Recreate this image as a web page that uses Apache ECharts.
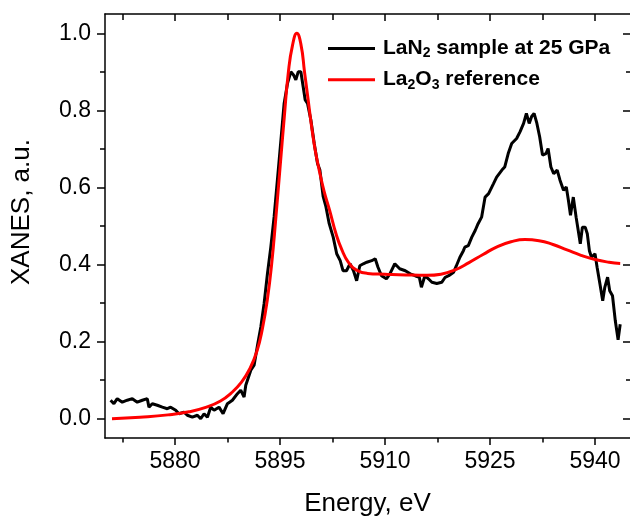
<!DOCTYPE html>
<html>
<head>
<meta charset="utf-8">
<script src="https://cdn.jsdelivr.net/npm/echarts@6/dist/echarts.min.js"></script>
<style>html,body{margin:0;padding:0;background:#fff}#c{width:630px;height:516px}</style>
</head>
<body>
<div id="c"></div>
<script>
// ---- data ----
const seriesNames = ['LaN2 sample at 25 GPa', 'La2O3 reference'];
const blackE = [5870.80,5871.27,5871.75,5872.47,5873.18,5873.90,5874.61,5875.33,5876.04,5876.28,5876.76,5877.47,5878.19,5878.90,5879.38,5880.10,5880.57,5881.29,5881.76,5882.48,5883.20,5883.67,5884.15,5884.63,5885.10,5885.58,5886.29,5886.87,5887.49,5888.20,5888.92,5889.39,5889.87,5890.11,5890.83,5891.30,5891.78,5892.26,5892.73,5893.21,5893.69,5894.16,5894.88,5895.59,5896.07,5896.55,5896.93,5897.26,5897.60,5897.98,5898.31,5898.60,5898.93,5899.41,5899.89,5900.36,5900.70,5901.17,5901.56,5902.03,
 5902.6,5903.1,5903.6,5904.0,5904.5,5905.0,5905.5,5905.95,5906.4,5906.9,5907.4,5908.1,5908.6,5909.0,5909.5,5910.2,5910.7,5911.4,5912.1,5912.9,5913.6,5914.3,5914.9,5915.2,5915.7,5916.2,5916.7,5917.4,5918.1,5918.6,5919.1,5919.8,5920.2,5920.7,5921.2,5921.4,5921.9,5922.4,5922.9,5923.3,5923.8,5924.3,5924.8,5925.5,5925.95,5926.7,5927.1,5927.6,5928.1,5928.8,5929.3,5929.8,5930.2,5930.6,5930.95,5931.3,5931.7,5932.1,5932.5,5933.0,5933.3,5933.7,5934.1,5934.6,5935.0,5935.5,5935.9,5936.2,5936.5,5936.9,5937.3,5937.6,5937.9,5938.2,5938.6,5938.9,5939.2,5939.5,5940.0,5940.3,5940.7,5941.1,5941.4,5941.8,5942.1,5942.5,5942.9,5943.3,5943.6];
const blackV = [0.048,0.039,0.052,0.043,0.048,0.052,0.043,0.048,0.052,0.030,0.039,0.035,0.030,0.026,0.030,0.022,0.013,0.017,0.009,0.004,0.009,0.000,0.013,0.004,0.030,0.022,0.030,0.013,0.039,0.048,0.065,0.074,0.056,0.087,0.126,0.139,0.190,0.238,0.299,0.377,0.446,0.524,0.671,0.818,0.870,0.900,0.892,0.879,0.900,0.900,0.861,0.827,0.818,0.775,0.714,0.662,0.645,0.576,0.550,0.506,
 0.471,0.428,0.410,0.384,0.384,0.402,0.384,0.358,0.397,0.402,0.406,0.410,0.415,0.393,0.371,0.363,0.376,0.402,0.389,0.384,0.376,0.371,0.367,0.341,0.371,0.363,0.354,0.351,0.354,0.367,0.371,0.380,0.397,0.419,0.436,0.445,0.449,0.471,0.489,0.506,0.523,0.575,0.584,0.610,0.627,0.645,0.653,0.688,0.714,0.727,0.745,0.766,0.792,0.766,0.784,0.792,0.766,0.731,0.684,0.688,0.701,0.653,0.636,0.645,0.619,0.593,0.601,0.567,0.528,0.575,0.523,0.489,0.454,0.497,0.497,0.480,0.436,0.419,0.428,0.393,0.350,0.306,0.341,0.367,0.332,0.319,0.254,0.205,0.245];
const redE = [5871.0,5875.0,5879.0,5882.0,5884.5,5886.5,5888.0,5889.5,5890.7,5891.7,5892.5,5893.2,5893.8,5894.4,5895.0,5895.6,5896.2,5896.8,5897.4,5898.0,5898.5,5899.0,5899.5,5900.0,5900.6,5901.3,5902.1,5903.0,5903.8,5904.8,5906.0,5907.5,5910.0,5913.0,5916.0,5918.0,5920.0,5922.0,5924.0,5926.0,5928.0,5930.0,5932.0,5934.0,5936.0,5938.0,5940.0,5942.0,5943.6];
const redV = [0.000,0.004,0.010,0.018,0.030,0.046,0.066,0.095,0.130,0.175,0.235,0.310,0.400,0.520,0.650,0.780,0.900,0.970,1.000,0.970,0.900,0.830,0.760,0.700,0.645,0.590,0.540,0.480,0.440,0.405,0.385,0.377,0.375,0.373,0.372,0.375,0.386,0.405,0.426,0.446,0.459,0.465,0.462,0.452,0.438,0.424,0.413,0.406,0.403];
const xMajor = [5880, 5895, 5910, 5925, 5940];
const xMinor = [5872.5, 5887.5, 5902.5, 5917.5, 5932.5];
const yMajor = [0, 0.2, 0.4, 0.6, 0.8, 1.0];
const yMinor = [0.1, 0.3, 0.5, 0.7, 0.9];

const FONT = '"Liberation Sans", Arial, sans-serif';
const zip = (a, b) => a.map((v, i) => [v, b[i]]);
const lineCol = '#000';

function xAx(pos, ticks, len, inside, withLabel, withLine, extra) {
  return Object.assign({
    type: 'value', position: pos, min: 5870, max: 5945,
    axisLine: { show: withLine, onZero: false, lineStyle: { color: lineCol, width: 1.5 } },
    axisTick: { show: true, inside: inside, length: len, customValues: ticks, lineStyle: { color: lineCol, width: 1.5 } },
    axisLabel: withLabel ? { show: true, customValues: ticks, color: '#000', fontSize: 23, fontFamily: FONT, margin: 12, formatter: v => String(v) } : { show: false },
    splitLine: { show: false }
  }, extra || {});
}
function yAx(pos, ticks, len, inside, withLabel, withLine, extra) {
  return Object.assign({
    type: 'value', position: pos, min: -0.05, max: 1.05,
    axisLine: { show: withLine, onZero: false, lineStyle: { color: lineCol, width: 1.5 } },
    axisTick: { show: true, inside: inside, length: len, customValues: ticks, lineStyle: { color: lineCol, width: 1.5 } },
    axisLabel: withLabel ? { show: true, customValues: ticks, color: '#000', fontSize: 23, fontFamily: FONT, margin: 14, formatter: v => v.toFixed(1) } : { show: false },
    splitLine: { show: false }
  }, extra || {});
}

const chart = echarts.init(document.getElementById('c'), null, { renderer: 'canvas' });
chart.setOption({
  animation: false,
  backgroundColor: '#fff',
  grid: { left: 105, top: 14, right: 0, bottom: 78, containLabel: false, outerBoundsMode: 'none' },
  xAxis: [
    xAx('bottom', xMajor, 7, false, true, true, {
      name: 'Energy, eV', nameLocation: 'middle', nameGap: 53,
      nameTextStyle: { color: '#000', fontSize: 26, fontFamily: FONT }
    }),
    xAx('bottom', xMinor, 4.5, false, false, false),
    xAx('top', xMajor, 7, true, false, true),
    xAx('top', xMinor, 6, true, false, false)
  ],
  yAxis: [
    yAx('left', yMajor, 8, false, true, true, {
      name: 'XANES, a.u.', nameLocation: 'middle', nameGap: 70,
      nameTextStyle: { color: '#000', fontSize: 26, fontFamily: FONT, padding: [0, 0, 0, 28] }
    }),
    yAx('left', yMinor, 5, false, false, false),
    yAx('right', yMajor, 7, true, false, false),
    yAx('right', yMinor, 4, true, false, false)
  ],
  legend: {
    orient: 'vertical', left: 328, top: 38, padding: 0,
    itemWidth: 47, itemHeight: 3, itemGap: 8.7, icon: 'rect',
    data: seriesNames,
    formatter: function (n) {
      if (n === seriesNames[0]) return '{p|}{b|LaN}{s|2}{b| sample at 25 GPa}';
      return '{p|}{b|La}{s|2}{b|O}{s|3}{b| reference}';
    },
    textStyle: {
      rich: {
        p: { width: 3, height: 1 },
        b: { fontSize: 21, fontWeight: 'bold', fontFamily: FONT, color: '#000', lineHeight: 24 },
        s: { fontSize: 14, fontWeight: 'bold', fontFamily: FONT, color: '#000', lineHeight: 13, verticalAlign: 'bottom' }
      }
    }
  },
  series: [
    {
      name: seriesNames[0], type: 'line', xAxisIndex: 0, yAxisIndex: 0,
      data: zip(blackE, blackV), showSymbol: false, symbol: 'none',
      lineStyle: { color: '#000', width: 3 }, itemStyle: { color: '#000' }, z: 2
    },
    {
      name: seriesNames[1], type: 'line', xAxisIndex: 0, yAxisIndex: 0,
      data: zip(redE, redV), showSymbol: false, symbol: 'none', smooth: 0.5,
      lineStyle: { color: '#ff0000', width: 3 }, itemStyle: { color: '#ff0000' }, z: 3
    }
  ]
});
</script>
</body>
</html>
